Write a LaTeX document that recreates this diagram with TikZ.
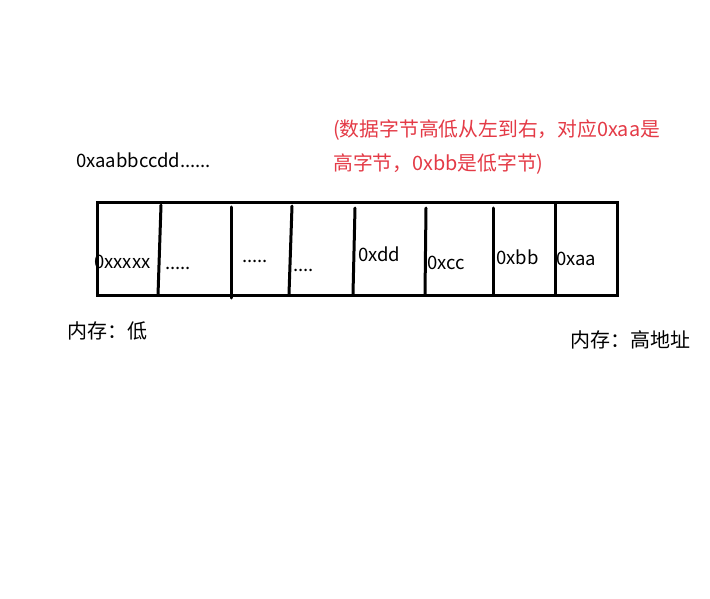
\documentclass[tikz,border=0pt]{standalone}
\usepackage{fontspec}
\setmainfont{Noto Sans CJK SC}
\definecolor{redtxt}{RGB}{228,58,70}
\tikzset{
  lbl/.style={anchor=west, inner sep=0pt, font=\fontsize{18.5}{21}\selectfont},
  cjklbl/.style={anchor=west, inner sep=0pt, font=\fontsize{20}{23}\selectfont},
  note/.style={anchor=west, inner sep=0pt, text=redtxt, font=\fontsize{19.8}{23}\selectfont},
  frame/.style={line width=3pt, line join=miter},
  divider/.style={line width=3pt, line cap=round}
}
\begin{document}
\begin{tikzpicture}[x=1pt,y=-1pt]
\useasboundingbox[fill=white] (0,0) rectangle (710,599);
% memory box
\draw[frame] (97,203) rectangle (617,295);
\draw[divider] (161,205) -- (158,295);
\draw[divider] (231,207) -- (231,298);
\draw[divider] (292,206) -- (289,294);
\draw[divider] (355,208) -- (353,294);
\draw[divider] (426,208) -- (425,294);
\draw[divider] (493,208) -- (493,294);
\draw[divider] (555,204) -- (555,294);
% texts
\node[lbl] (hdr) at (76,160) {0xaabbccdd......};
\node[note] (n1) at (333,130) {(数据字节高低从左到右，对应0xaa是};
\node[note] (n2) at (333,164) {高字节，0xbb是低字节)};
\node[lbl] (c0) at (94,262) {0xxxxx};
\node[lbl] (c1) at (165,268) {.....};
\node[lbl] (c2) at (242,261) {.....};
\node[lbl] (c3) at (293,270) {....};
\node[lbl] (c4) at (358,254) {0xdd};
\node[lbl] (c5) at (427,263) {0xcc};
\node[lbl] (c6) at (496,257) {0xbb};
\node[lbl] (c7) at (556,259) {0xaa};
\node[cjklbl] (lo) at (67,331) {内存：低};
\node[cjklbl] (hi) at (570,340) {内存：高地址};
\end{tikzpicture}
\end{document}
